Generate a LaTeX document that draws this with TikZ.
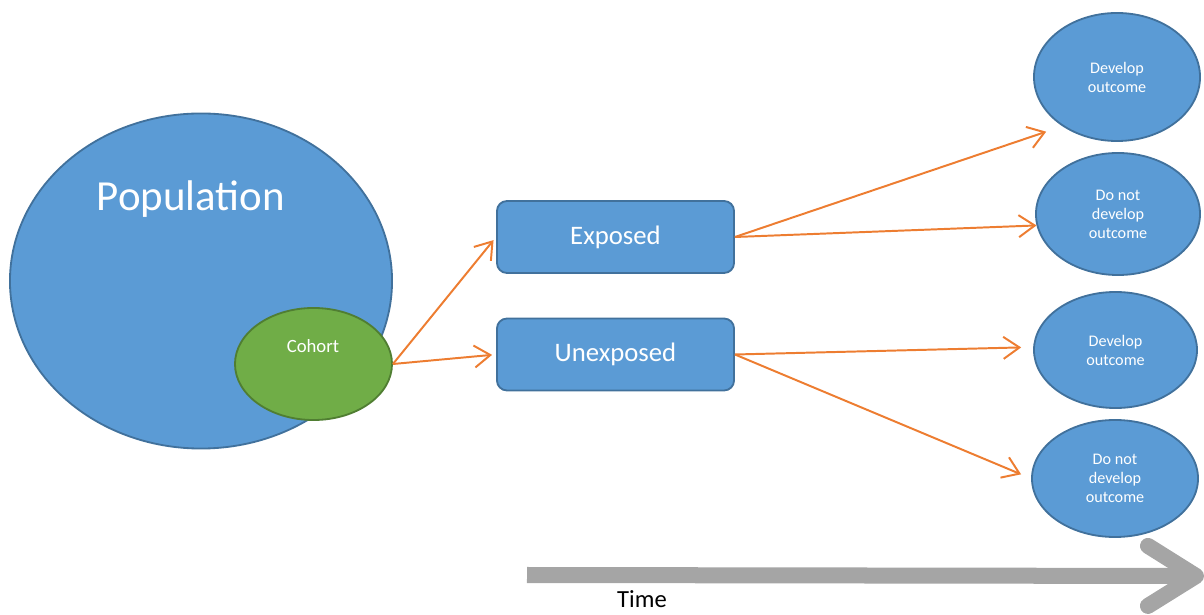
\documentclass[tikz,border=0pt]{standalone}
\usepackage{fontspec}
\setmainfont{Carlito}
\usepackage{xcolor}
\usetikzlibrary{positioning, arrows.meta, shapes.geometric, calc}

\definecolor{boxblue}{HTML}{5B9BD5}
\definecolor{edgeblue}{HTML}{41719C}
\definecolor{cohgreen}{HTML}{70AD47}
\definecolor{edgegreen}{HTML}{507E32}
\definecolor{arrorange}{HTML}{ED7D31}
\definecolor{timegray}{HTML}{A5A5A5}

\begin{document}
\begin{tikzpicture}[
    x=0.025cm, y=-0.025cm,
    bigell/.style={ellipse, draw=edgeblue, fill=boxblue, line width=1.3pt, inner sep=0pt},
    outell/.style={ellipse, draw=edgeblue, fill=boxblue, line width=1.3pt, inner sep=0pt, align=center,
        text=white, font=\fontsize{11.5}{13.5}\selectfont},
    cohell/.style={ellipse, draw=edgegreen, fill=cohgreen, line width=1.3pt, inner sep=0pt},
    box/.style={rectangle, draw=edgeblue, fill=boxblue, rounded corners=0.25cm, line width=1.3pt,
        minimum width=5.925cm, minimum height=1.8cm, text=white, font=\fontsize{19}{22}\selectfont},
    arrow/.style={-{Straight Barb[length=0.4cm, width=0.55cm]}, draw=arrorange, line width=1.4pt}
]
\useasboundingbox (0,0) rectangle (1204,615);

% Population and cohort
\node[bigell, minimum width=9.55cm, minimum height=8.375cm] (pop) at (201,281) {};
\node[text=white, font=\fontsize{30.5}{34}\selectfont] (poplabel) at (191,199) {Population};
\node[cohell, minimum width=3.925cm, minimum height=2.8cm] (cohort) at (313.5,364) {};
\node[text=white, font=\fontsize{13.3}{16}\selectfont] (cohlabel) at (313,346) {Cohort};

% Exposure groups
\node[box] (exposed) at (615.5,237) {Exposed};
\node[box] (unexposed) at (615.5,354.5) {Unexposed};

% Outcomes
\node[outell, minimum width=4.15cm, minimum height=3.2cm] (expdev) at (1117,77) {Develop\\outcome};
\node[outell, minimum width=4.1cm, minimum height=3.05cm] (expnot) at (1118,214) {Do not\\develop\\outcome};
\node[outell, minimum width=4.075cm, minimum height=2.9cm] (unexdev) at (1115.5,350) {Develop\\outcome};
\node[outell, minimum width=4.15cm, minimum height=2.925cm] (unexnot) at (1115,478.5) {Do not\\develop\\outcome};

% Arrows
\draw[arrow, shorten >=0.1cm] (cohort.east) -- (exposed.west);
\draw[arrow, shorten >=0.1cm] (cohort.east) -- (unexposed.west);
\draw[arrow, shorten >=0.425cm] (exposed.east) -- (expdev.222);
\draw[arrow] (exposed.east) -- (expnot.188);
\draw[arrow, shorten >=0.3cm] (unexposed.east) -- (unexdev.178.5);
\draw[arrow, shorten >=0.27cm] (unexposed.east) -- (unexnot.180);

% Time axis
\coordinate (tstart) at (527,575);
\coordinate (tend) at (1204,576);
\draw[draw=timegray, line width=0.4cm, -{Straight Barb[round, length=1.2cm, width=1.5cm]}] (tstart) -- (tend);
\node[font=\fontsize{17.5}{20}\selectfont] (time) at (642,599) {Time};

\end{tikzpicture}
\end{document}
